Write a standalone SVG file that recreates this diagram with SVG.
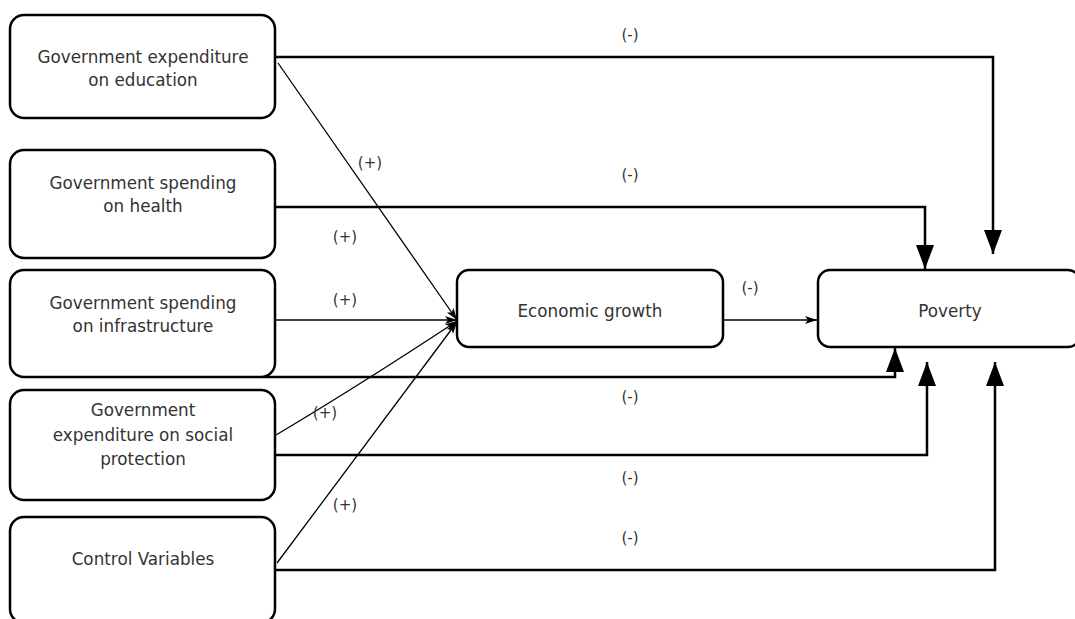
<svg xmlns="http://www.w3.org/2000/svg" width="1075" height="619" viewBox="0 0 1075 619">
<style>
.box{fill:#fff;stroke:#000;stroke-width:2.5}
.t{font-family:"DejaVu Sans",Verdana,sans-serif;font-size:16.8px;fill:#333;text-anchor:middle}
.l{font-family:"DejaVu Sans",Verdana,sans-serif;font-size:15px;fill:#333;text-anchor:middle}
.thick{fill:none;stroke:#000;stroke-width:2.5}
.thin{fill:none;stroke:#000;stroke-width:1.3}
</style>
<defs>
<marker id="big" markerUnits="userSpaceOnUse" markerWidth="24" markerHeight="20" refX="24" refY="9" orient="auto">
<path d="M0,0 L24,9 L0,18 Z" fill="#000"/>
</marker>
<marker id="small" markerUnits="userSpaceOnUse" markerWidth="12" markerHeight="10" refX="12" refY="4" orient="auto">
<path d="M0,0 L12,4 L0,8 L3,4 Z" fill="#000"/>
</marker>
</defs>
<rect width="1075" height="619" fill="#fff"/>
<g id="connectors">
<path class="thick" d="M276,57 H993 V254" marker-end="url(#big)"/>
<path class="thick" d="M276,207 H925 V269" marker-end="url(#big)"/>
<path class="thick" d="M262,377 H895 V348" marker-end="url(#big)"/>
<path class="thick" d="M276,455 H927 V362" marker-end="url(#big)"/>
<path class="thick" d="M276,570 H995 V362" marker-end="url(#big)"/>
<path class="thin" d="M278,63 L457,320" marker-end="url(#small)"/>
<path class="thin" d="M276,320 H457" marker-end="url(#small)"/>
<path class="thin" d="M276,435 Q360,385 457,321" marker-end="url(#small)"/>
<path class="thin" d="M277,563 L457,322" marker-end="url(#small)"/>
<path class="thin" d="M723,320 H817" marker-end="url(#small)"/>
<text class="l" x="630" y="40">(-)</text>
<text class="l" x="630" y="180">(-)</text>
<text class="l" x="630" y="402">(-)</text>
<text class="l" x="630" y="483">(-)</text>
<text class="l" x="630" y="543">(-)</text>
<text class="l" x="750" y="293">(-)</text>
<text class="l" x="370" y="168">(+)</text>
<text class="l" x="345" y="242">(+)</text>
<text class="l" x="345" y="305">(+)</text>
<text class="l" x="325" y="418">(+)</text>
<text class="l" x="345" y="510">(+)</text>
</g>
<g id="n1"><rect class="box" x="10" y="15" width="265" height="103" rx="14"/>
<text class="t" x="143" y="63">Government expenditure</text><text class="t" x="143" y="86">on education</text></g>
<g id="n2"><rect class="box" x="10" y="150" width="265" height="108" rx="14"/>
<text class="t" x="143" y="189">Government spending</text><text class="t" x="143" y="212">on health</text></g>
<g id="n3"><rect class="box" x="10" y="270" width="265" height="107" rx="14"/>
<text class="t" x="143" y="309">Government spending</text><text class="t" x="143" y="332">on infrastructure</text></g>
<g id="n4"><rect class="box" x="10" y="390" width="265" height="110" rx="14"/>
<text class="t" x="143" y="416">Government</text><text class="t" x="143" y="441">expenditure on social</text><text class="t" x="143" y="465">protection</text></g>
<g id="n5"><rect class="box" x="10" y="517" width="265" height="106" rx="14"/>
<text class="t" x="143" y="565">Control Variables</text></g>
<g id="n6"><rect class="box" x="457" y="270" width="266" height="77" rx="12"/>
<text class="t" x="590" y="317">Economic growth</text></g>
<g id="n7"><rect class="box" x="818" y="270" width="262" height="77" rx="12"/>
<text class="t" x="950" y="317">Poverty</text></g>
</svg>
